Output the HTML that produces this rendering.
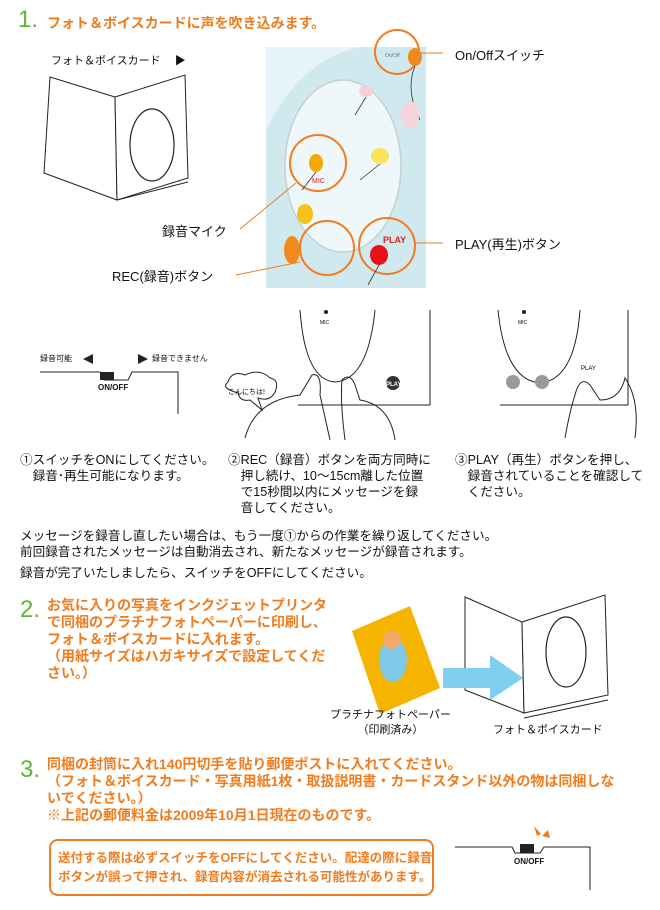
<!DOCTYPE html>
<html><head><meta charset="utf-8"><style>
*{margin:0;padding:0;box-sizing:border-box}
body{width:660px;height:910px;background:#fff;position:relative;overflow:hidden;font-family:"Liberation Sans","Noto Sans CJK JP",sans-serif;color:#111}
.a{position:absolute;white-space:nowrap}
.or{color:#f07c1e;font-weight:bold}
.num{color:#5cb832;font-size:24px;font-family:"Liberation Sans",sans-serif}
.cap{font-size:12.6px;line-height:16px}
</style></head><body>
<svg class="a" style="left:0;top:0" width="660" height="910">
<g fill="#fff" stroke="#222" stroke-width="1">
<polygon points="50,77 115,97 117,200 44,173"/>
<polygon points="115,97 185,75 188,178 117,200"/>
<line x1="117" y1="200" x2="188" y2="182"/>
<ellipse cx="152" cy="145" rx="22" ry="36" stroke-width="1.2"/>
<polygon points="465,597 522,622 524,713 465,690"/>
<polygon points="522,622 605,595 608,695 524,713"/>
<line x1="524" y1="718" x2="608" y2="700"/>
<ellipse cx="566" cy="652" rx="20" ry="35" stroke-width="1.2"/>
</g>
<rect x="266" y="47" width="160" height="241" fill="#cfe9ef"/>
<path d="M266,130 Q300,60 360,47 L266,47Z" fill="#e6f4f7"/>
<ellipse cx="343" cy="166" rx="58" ry="86" fill="#eef7f9" stroke="#c7cfd3" stroke-width="1.5"/>
<g fill="none" stroke="#f07c1e" stroke-width="2">
<circle cx="397" cy="52" r="22"/><circle cx="318" cy="163" r="28"/>
<circle cx="327" cy="248" r="27"/><circle cx="387" cy="246" r="28"/>
</g>
<g stroke="#f07c1e" stroke-width="1">
<line x1="418" y1="53" x2="443" y2="53"/><line x1="415" y1="243" x2="443" y2="243"/>
<line x1="296" y1="183" x2="240" y2="229"/><line x1="300" y1="262" x2="236" y2="275"/>
</g>
<g stroke="#333" stroke-width="0.8" fill="none">
<path d="M415,66 Q405,90 420,120"/><path d="M316,172 L302,190"/><path d="M380,164 L360,180"/><path d="M379,265 L368,285"/><path d="M366,97 L355,115"/>
</g>
<ellipse cx="415" cy="57" rx="7" ry="9" fill="#f08a1e"/>
<ellipse cx="316" cy="163" rx="7" ry="9" fill="#f4a800"/>
<ellipse cx="305" cy="214" rx="8" ry="10" fill="#f6c21a"/>
<ellipse cx="380" cy="156" rx="9" ry="8" fill="#f9e45a"/>
<ellipse cx="366" cy="91" rx="7" ry="6" fill="#f6d0d6"/>
<ellipse cx="379" cy="255" rx="9" ry="10" fill="#e8111a"/>
<ellipse cx="410" cy="115" rx="9" ry="14" fill="#f4d6da"/>
<ellipse cx="292" cy="250" rx="8" ry="14" fill="#f08a1e"/>
<text x="312" y="183" font-size="7" fill="#d22" font-family="Liberation Sans">MIC</text>
<text x="383" y="243" font-size="9" fill="#d22" font-weight="bold" font-family="Liberation Sans">PLAY</text>
<text x="385" y="57" font-size="5" fill="#777" font-family="Liberation Sans">On/Off</text>
<g fill="none" stroke="#222" stroke-width="1">
<polyline points="40,372 100,372 104,380 128,380 132,372 178,372 178,414"/>
<path d="M300,310 Q305,380 335,382 Q368,380 375,310"/>
<line x1="430" y1="310" x2="430" y2="405"/><line x1="298" y1="405" x2="430" y2="405"/>
<path d="M498,310 Q505,380 540,383 Q575,380 580,310"/>
<line x1="628" y1="310" x2="628" y2="405"/><line x1="500" y1="405" x2="628" y2="405"/>
<path d="M245,438 Q255,400 300,395 L312,375 Q322,372 320,395 L330,440"/>
<path d="M345,440 Q340,400 342,380 Q350,372 355,385 L360,400 Q390,405 395,440"/>
<path d="M565,438 Q570,410 575,395 Q580,375 590,385 L600,400 Q620,400 625,378 Q640,400 635,438"/>
<path d="M238,393 Q220,388 228,382 Q232,370 245,375 Q260,368 270,378 Q280,380 275,392 Q270,402 258,398 L262,410 L250,400 Q240,402 238,393Z" fill="#fff"/>
<polyline points="455,847 512,847 515,853 540,853 544,847 590,847 590,890"/>
</g>
<rect x="100" y="372" width="14" height="8" fill="#222"/>
<rect x="520" y="844" width="14" height="9" fill="#222"/>
<polygon points="534,826 537,836 541,834" fill="#f07c1e"/><polygon points="542,836 548,830 550,838" fill="#f07c1e"/>
<polygon points="83,359 93,354 93,364" fill="#222"/><polygon points="138,354 148,359 138,364" fill="#222"/>
<circle cx="326" cy="312" r="2" fill="#222"/><circle cx="524" cy="312" r="2" fill="#222"/>
<circle cx="393" cy="383" r="7" fill="#333"/>
<circle cx="513" cy="382" r="7" fill="#999"/><circle cx="542" cy="382" r="7" fill="#999"/>
<text x="386" y="386" font-size="6" fill="#fff" font-weight="bold" font-family="Liberation Sans">PLAY</text>
<text x="320" y="324" font-size="5" font-family="Liberation Sans">MIC</text>
<text x="518" y="324" font-size="5" font-family="Liberation Sans">MIC</text>
<text x="581" y="370" font-size="6" font-family="Liberation Sans">PLAY</text>
<text x="228" y="394" font-size="7" font-family="Liberation Sans">こんにちは!</text>
<polygon points="352,631 410,606 440,688 380,714" fill="#f5b400"/>
<ellipse cx="393" cy="660" rx="14" ry="22" fill="#7ec8e8"/>
<circle cx="392" cy="640" r="9" fill="#f4a86a"/>
<polygon points="443,668 490,668 490,655 523,678 490,700 490,688 443,688" fill="#7fcff0"/>
<rect x="50" y="840" width="383" height="55" rx="8" fill="#fff" stroke="#f07c1e" stroke-width="2"/>
</svg>

<div class="a num" style="left:18px;top:6px">1.</div>
<div class="a or" style="left:47px;top:13px;font-size:14px">フォト＆ボイスカードに声を吹き込みます。</div>
<div class="a" style="left:51px;top:52px;font-size:11px">フォト＆ボイスカード　 ▶</div>
<div class="a" style="left:455px;top:45px;font-size:13px">On/Offスイッチ</div>
<div class="a" style="left:455px;top:234px;font-size:13px">PLAY(再生)ボタン</div>
<div class="a" style="left:162px;top:221px;font-size:13px">録音マイク</div>
<div class="a" style="left:112px;top:266px;font-size:13px">REC(録音)ボタン</div>
<div class="a" style="left:40px;top:353px;font-size:8px">録音可能</div>
<div class="a" style="left:152px;top:353px;font-size:8px">録音できません</div>
<div class="a" style="left:98px;top:383px;font-size:8px;font-weight:bold">ON/OFF</div>
<div class="a cap" style="left:20px;top:452px">①スイッチをONにしてください。<br>　録音･再生可能になります。</div>
<div class="a cap" style="left:228px;top:452px">②REC（録音）ボタンを両方同時に<br>　押し続け、10～15cm離した位置<br>　で15秒間以内にメッセージを録<br>　音してください。</div>
<div class="a cap" style="left:455px;top:452px">③PLAY（再生）ボタンを押し、<br>　録音されていることを確認して<br>　ください。</div>
<div class="a cap" style="left:20px;top:528px">メッセージを録音し直したい場合は、もう一度①からの作業を繰り返してください。<br>前回録音されたメッセージは自動消去され、新たなメッセージが録音されます。</div>
<div class="a cap" style="left:20px;top:565px">録音が完了いたしましたら、スイッチをOFFにしてください。</div>
<div class="a num" style="left:20px;top:596px">2.</div>
<div class="a or" style="left:47px;top:597px;font-size:14px;line-height:17px">お気に入りの写真をインクジェットプリンタ<br>で同梱のプラチナフォトペーパーに印刷し、<br>フォト＆ボイスカードに入れます。<br>（用紙サイズはハガキサイズで設定してくだ<br>さい。）</div>
<div class="a" style="left:330px;top:708px;font-size:11px;line-height:15px;text-align:center">プラチナフォトペーパー<br>（印刷済み）</div>
<div class="a" style="left:493px;top:721px;font-size:11px">フォト＆ボイスカード</div>
<div class="a num" style="left:20px;top:756px">3.</div>
<div class="a or" style="left:47px;top:756px;font-size:14px;line-height:17px">同梱の封筒に入れ140円切手を貼り郵便ポストに入れてください。<br>（フォト＆ボイスカード・写真用紙1枚・取扱説明書・カードスタンド以外の物は同梱しな<br>いでください。）<br>※上記の郵便料金は2009年10月1日現在のものです。</div>
<div class="a or" style="left:58px;top:849px;font-size:12.5px;line-height:19px">送付する際は必ずスイッチをOFFにしてください。配達の際に録音<br>ボタンが誤って押され、録音内容が消去される可能性があります。</div>
<div class="a" style="left:514px;top:857px;font-size:8px;font-weight:bold">ON/OFF</div>
</body></html>
